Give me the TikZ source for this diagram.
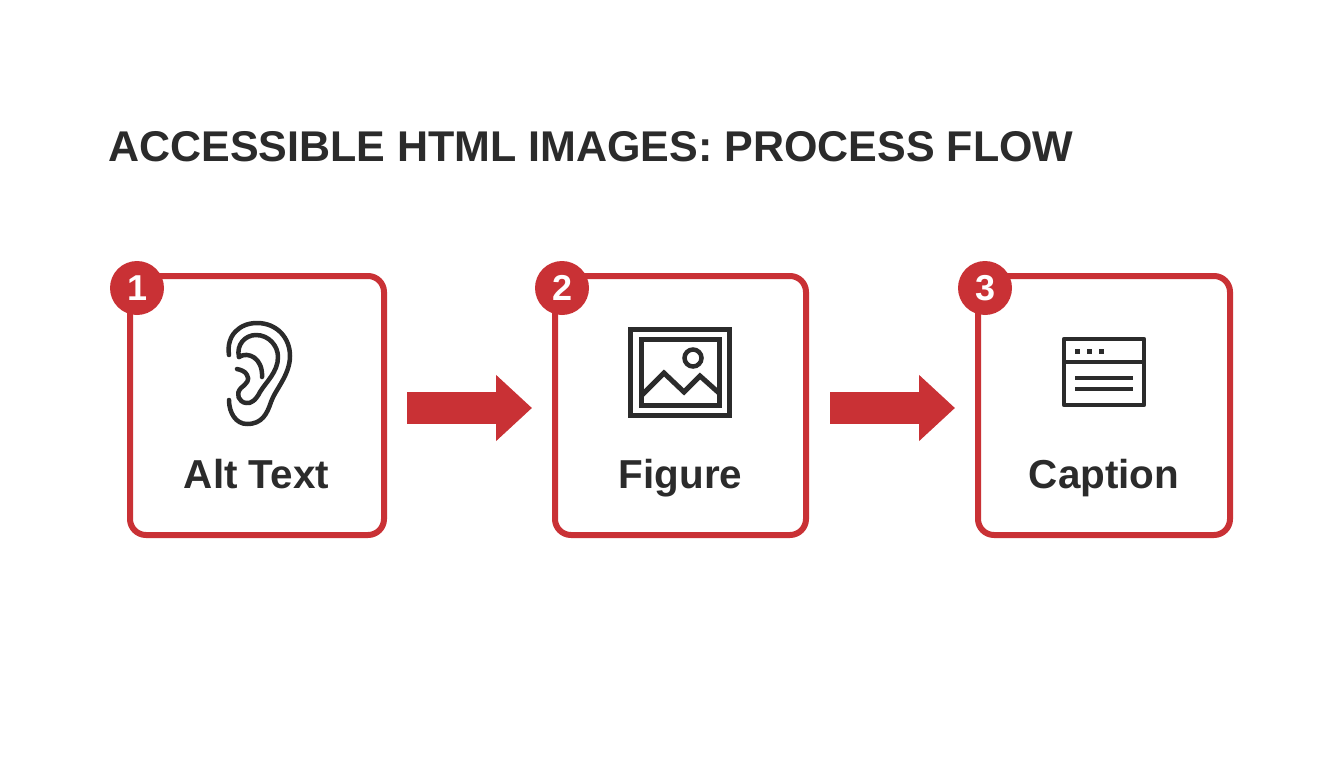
\documentclass[tikz,border=0pt]{standalone}
\usepackage{fontspec}
\setmainfont{Liberation Sans}
\usetikzlibrary{arrows.meta}
\definecolor{brandred}{HTML}{C93135}
\definecolor{ink}{HTML}{2B2B2B}
\tikzset{
  card/.style={draw=brandred,line width=6pt,fill=white,rounded corners=16pt,minimum width=#1,minimum height=259pt,outer sep=0pt,inner sep=0pt},
  badge/.style={circle,fill=brandred,minimum size=54pt,inner sep=0pt,text=white,font=\fontsize{36}{36}\selectfont\bfseries},
  flow/.style={draw=brandred,line width=32pt,-{Triangle[width=64pt,length=36pt,fill=brandred]}},
  label/.style={text=ink,font=\fontsize{40.4}{40.4}\selectfont\bfseries,anchor=base,inner sep=0pt},
  icon/.style={draw=ink,line width=4.5pt,line cap=round,line join=round},
  iconsq/.style={draw=ink,line width=5pt,line cap=butt,line join=miter},
}
\begin{document}
\begin{tikzpicture}[x=1pt,y=-1pt]
\useasboundingbox (0,0) rectangle (1344,768);
\fill[white] (0,0) rectangle (1344,768);
\node[text=ink,font=\fontsize{43}{43}\selectfont\bfseries,anchor=base west,inner sep=0pt] (title) at (108,161) {ACCESSIBLE HTML IMAGES: PROCESS FLOW};
\node[card=254pt] (c1) at (257,405.5) {};
\node[card=251pt] (c2) at (680.5,405.5) {};
\node[card=252pt] (c3) at (1104,405.5) {};
\node[badge] (b1) at (137,288) {\hspace*{1.5pt}1};
\node[badge] (b2) at (562,288) {\hspace*{1pt}2};
\node[badge] (b3) at (985,288) {3};
\draw[flow] ([xshift=23pt,yshift=-2.5pt]c1.east) -- ([xshift=-23pt,yshift=-2.5pt]c2.west);
\draw[flow] ([xshift=24pt,yshift=-2.5pt]c2.east) -- ([xshift=-23pt,yshift=-2.5pt]c3.west);
\node[label] (l1) at (256.5,488) {Alt Text};
\node[label] (l2) at (680.5,488) {Figure};
\node[label] (l3) at (1104,488) {Caption};
% ear
\draw[icon] (229,355) .. controls (226,335) and (240,323) .. (257,323) .. controls (277,323) and (290,338) .. (290,356) .. controls (290,375) and (275,390) .. (271,402) .. controls (267,414) and (262,424) .. (247,424) .. controls (236,424) and (229,413) .. (229,400);
\draw[icon] (239,357) .. controls (236,345) and (245,335) .. (256,335) .. controls (269,335) and (278,346) .. (278,357) .. controls (278,372) and (266,382) .. (260,392) .. controls (256,400) and (251,404) .. (246,403) .. controls (239,402) and (235,394) .. (241,388) .. controls (247,383) and (250,380) .. (247,375) .. controls (245,371) and (241,370) .. (237,369);
\draw[icon] (239,357) .. controls (248,351) and (263,358) .. (262,377);
% picture
\draw[iconsq] (630.5,329.5) rectangle (729.5,415.5);
\draw[iconsq] (641.5,339.5) rectangle (719.5,405.5);
\draw[iconsq,line width=4.5pt] (693,358) circle (8.5);
\draw[iconsq] (642,395) -- (664,373) -- (684,392) -- (700,376) -- (719,393);
% window
\draw[iconsq,line width=4.5pt,line join=round] (1064,339) rectangle (1144,405);
\draw[iconsq,line width=4.5pt] (1064,362) -- (1144,362);
\foreach \x in {1077,1089,1101} \fill[ink] (\x-2.5,348.5) rectangle (\x+2.5,353.5);
\draw[iconsq,line width=4.5pt] (1075,378) -- (1133,378);
\draw[iconsq,line width=4.5pt] (1075,389) -- (1133,389);
\end{tikzpicture}
\end{document}
